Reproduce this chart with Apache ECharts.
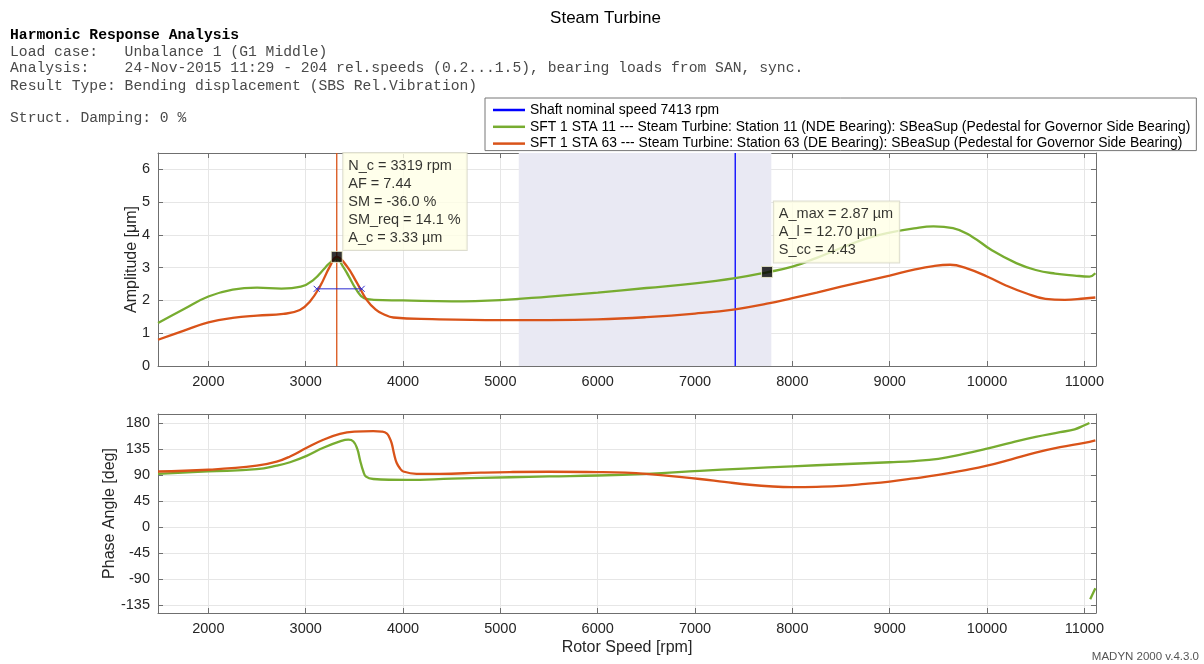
<!DOCTYPE html>
<html><head><meta charset="utf-8">
<script src="https://cdn.jsdelivr.net/npm/echarts@6/dist/echarts.min.js"></script>
<style>html,body{margin:0;padding:0;background:#fff}#c{width:1204px;height:664px}</style>
</head><body><div id="c"></div>
<script>
// ---------- data ----------
const speedRange = [1482.6, 11119.5];
const ampRange = [0, 6.5];
const phaseRange = [-149, 195.5];
const speedTicks = [2000, 3000, 4000, 5000, 6000, 7000, 8000, 9000, 10000, 11000];
const ampTicks = [0, 1, 2, 3, 4, 5, 6];
const phaseTicks = [-135, -90, -45, 0, 45, 90, 135, 180];
const nominalSpeed = 7413;
const operatingBand = [5189, 7784];
const criticalSpeed = 3319;
const criticalPoint = [3319, 3.33];
const maxPoint = [7740, 2.87];
const halfPowerLine = [[3113, 2.355], [3575, 2.355]];
const criticalInfo = ['N_c = 3319 rpm', 'AF = 7.44', 'SM = -36.0 %', 'SM_req = 14.1 %', 'A_c = 3.33 µm'];
const maxInfo = ['A_max = 2.87 µm', 'A_l = 12.70 µm', 'S_cc = 4.43'];
const nameNominal = 'Shaft nominal speed 7413 rpm';
const name11 = 'SFT 1 STA 11 --- Steam Turbine: Station 11 (NDE Bearing): SBeaSup (Pedestal for Governor Side Bearing)';
const name63 = 'SFT 1 STA 63 --- Steam Turbine: Station 63 (DE Bearing): SBeaSup (Pedestal for Governor Side Bearing)';
const headerLines = [
  'Load case:   Unbalance 1 (G1 Middle)',
  'Analysis:    24-Nov-2015 11:29 - 204 rel.speeds (0.2...1.5), bearing loads from SAN, sync.',
  'Result Type: Bending displacement (SBS Rel.Vibration)'
];
const headerTitle = 'Harmonic Response Analysis';
const dampingLine = 'Struct. Damping: 0 %';

const amp11 = [
  [1483,1.31],[1750,1.74],[2000,2.12],[2250,2.33],[2500,2.39],[2750,2.36],[2950,2.42],
  [3080,2.63],[3200,3.00],[3260,3.18],[3319,3.27],[3380,3.05],[3440,2.75],[3520,2.33],
  [3600,2.07],[3700,2.02],[4000,2.00],[4500,1.97],[5000,2.01],[5500,2.12],[6000,2.24],
  [6500,2.38],[7000,2.52],[7413,2.68],[7740,2.86],[8000,3.03],[8250,3.30],[8500,3.60],
  [8750,3.88],[9000,4.07],[9250,4.20],[9450,4.26],[9650,4.21],[9850,3.94],[10050,3.53],
  [10300,3.14],[10500,2.93],[10700,2.82],[10900,2.76],[11052,2.73],[11113,2.83]
];
const amp63 = [
  [1483,0.80],[1750,1.08],[2000,1.33],[2250,1.47],[2500,1.54],[2770,1.59],[2940,1.71],
  [3044,1.97],[3147,2.43],[3249,3.04],[3319,3.33],[3421,3.05],[3524,2.55],[3626,2.02],
  [3720,1.72],[3800,1.58],[3900,1.48],[4300,1.43],[5000,1.40],[5500,1.40],[6000,1.42],
  [6500,1.49],[7000,1.60],[7413,1.73],[7738,1.90],[8000,2.07],[8250,2.24],[8500,2.42],
  [8750,2.59],[9000,2.76],[9250,2.94],[9450,3.05],[9620,3.09],[9800,2.97],[10000,2.73],
  [10200,2.45],[10400,2.22],[10600,2.05],[10800,2.02],[11000,2.06],[11113,2.09]
];
const phase11 = [
  [1483,92],[2000,96],[2497,100],[2702,106],[2839,112],[3010,123],[3181,137],[3352,148],
  [3438,151],[3490,148],[3530,135],[3558,116],[3590,97],[3620,87],[3694,83],[4037,81.5],
  [4500,83.5],[5097,86],[5500,87.5],[6000,89],[6500,92],[7048,97],[7500,101],[8000,105],
  [8500,108.5],[9000,112],[9250,114],[9500,118],[9750,126],[10000,135.5],[10250,146],
  [10500,156],[10750,164],[10900,169],[11000,176],[11052,180],[11056,'-'],
  [11060,-125],[11113,-106]
];
const phase63 = [
  [1483,96],[2000,99],[2497,106],[2702,113],[2839,122],[3010,137],[3181,151],[3352,161],
  [3500,165],[3694,166],[3780,165],[3832,162],[3860,155],[3883,145],[3910,125],[3934,111],
  [3970,101],[4002,96],[4139,92],[4379,92],[4800,94],[5097,95],[5500,95.5],[6000,95],
  [6500,92],[7048,83],[7300,78],[7561,73],[7800,70],[8000,69],[8250,69.5],[8500,71],
  [8750,74.5],[9000,78.6],[9250,84],[9500,90],[9750,97.5],[10000,106],[10250,117],
  [10500,128.5],[10750,138],[11000,145.5],[11113,149.8]
];

// ---------- styling ----------
const FONT = '"Liberation Sans", Arial, Helvetica, sans-serif';
const MONO = '"Liberation Mono", "Courier New", monospace';
const GREEN = '#77AC30', ORANGE = '#D95319', AXIS = '#6f6f6f';

function xAx(gridIndex, position, main, name) {
  return {
    type: 'value', gridIndex, position, min: speedRange[0], max: speedRange[1],
    axisLine: {show: true, onZero: false, lineStyle: {color: AXIS, width: 1}},
    axisTick: {show: true, inside: true, length: 5, customValues: speedTicks, lineStyle: {color: AXIS}},
    axisLabel: {show: main, customValues: speedTicks, margin: 8, color: '#262626', fontSize: 14.5, fontFamily: FONT,
      formatter: v => String(v)},
    splitLine: {show: main, lineStyle: {color: '#e6e6e6', width: 1}},
    name: name || '', nameLocation: 'middle', nameGap: 27, nameMoveOverlap: false,
    nameTextStyle: {color: '#262626', fontSize: 16, fontFamily: FONT}
  };
}
function yAx(gridIndex, position, main, range, ticks, name, gap) {
  return {
    type: 'value', gridIndex, position, min: range[0], max: range[1],
    axisLine: {show: true, onZero: false, lineStyle: {color: AXIS, width: 1}},
    axisTick: {show: true, inside: true, length: 5, customValues: ticks, lineStyle: {color: AXIS}},
    axisLabel: {show: main, customValues: ticks, margin: 8, color: '#262626', fontSize: 14.5, fontFamily: FONT,
      formatter: v => String(v)},
    splitLine: {show: main, lineStyle: {color: '#e6e6e6', width: 1}},
    name: name || '', nameLocation: 'middle', nameGap: gap || 0, nameRotate: 90, nameMoveOverlap: false,
    nameTextStyle: {color: '#262626', fontSize: 16, fontFamily: FONT}
  };
}
function curve(name, data, color, xi, yi) {
  return {
    type: 'line', name, data, xAxisIndex: xi, yAxisIndex: yi, symbol: 'none', showSymbol: false,
    smooth: 0.45, connectNulls: false,
    lineStyle: {color, width: 2.3}, itemStyle: {color}, z: 4
  };
}

const labelRich = (lines) => lines.join('\n');

const option = {
  animation: false,
  backgroundColor: '#fff',
  grid: [
    {left: 158, top: 153, width: 938, height: 213, show: false},
    {left: 158, top: 414, width: 938, height: 199, show: false}
  ],
  xAxis: [
    xAx(0, 'bottom', true),
    xAx(0, 'top', false),
    xAx(1, 'bottom', true, 'Rotor Speed [rpm]'),
    xAx(1, 'top', false)
  ],
  yAxis: [
    yAx(0, 'left', true, ampRange, ampTicks, 'Amplitude [μm]', 18),
    yAx(0, 'right', false, ampRange, ampTicks),
    yAx(1, 'left', true, phaseRange, phaseTicks, 'Phase Angle [deg]', 40),
    yAx(1, 'right', false, phaseRange, phaseTicks)
  ],
  legend: {
    data: [nameNominal, name11, name63],
    orient: 'vertical', left: 485, top: 98,
    icon: 'rect',
    padding: [5, 6, 0, 8], itemGap: 2.8, itemWidth: 32, itemHeight: 2.5,
    backgroundColor: '#fff', borderColor: '#777', borderWidth: 1,
    textStyle: {fontSize: 13.9, fontFamily: FONT, color: '#000', lineHeight: 14},
    selectedMode: false
  },
  graphic: [
    {type: 'text', x: 605.5, y: 18.5, style: {text: 'Steam Turbine', font: '17px ' + FONT, fill: '#000', align: 'center', verticalAlign: 'middle'}},
    {type: 'text', x: 10, y: 35, style: {text: headerTitle, font: 'bold 14.7px ' + MONO, fill: '#000', verticalAlign: 'middle'}},
    {type: 'text', x: 10, y: 51.7, style: {text: headerLines[0], font: '14.7px ' + MONO, fill: '#4a4a4a', verticalAlign: 'middle'}},
    {type: 'text', x: 10, y: 68.5, style: {text: headerLines[1], font: '14.7px ' + MONO, fill: '#4a4a4a', verticalAlign: 'middle'}},
    {type: 'text', x: 10, y: 86, style: {text: headerLines[2], font: '14.7px ' + MONO, fill: '#4a4a4a', verticalAlign: 'middle'}},
    {type: 'text', x: 10, y: 118.5, style: {text: dampingLine, font: '14.7px ' + MONO, fill: '#4a4a4a', verticalAlign: 'middle'}},
    {type: 'text', x: 1199, y: 656.5, style: {text: 'MADYN 2000 v.4.3.0', font: '11.5px ' + FONT, fill: '#555', align: 'right', verticalAlign: 'middle'}}
  ],
  series: [
    {
      type: 'line', name: nameNominal, xAxisIndex: 0, yAxisIndex: 0,
      data: [[nominalSpeed, ampRange[0]], [nominalSpeed, ampRange[1]]],
      symbol: 'none', lineStyle: {color: '#0000ff', width: 1.3}, itemStyle: {color: '#0000ff'}, z: 3,
      markArea: {
        silent: true, itemStyle: {color: '#e9e9f3'},
        data: [[{xAxis: operatingBand[0]}, {xAxis: operatingBand[1]}]]
      }
    },
    {
      type: 'line', name: 'crit', xAxisIndex: 0, yAxisIndex: 0,
      data: [[criticalSpeed, ampRange[0]], [criticalSpeed, ampRange[1]]],
      symbol: 'none', lineStyle: {color: ORANGE, width: 1.3}, z: 3
    },
    curve(name11, amp11, GREEN, 0, 0),
    curve(name63, amp63, ORANGE, 0, 0),
    curve(name11, phase11, GREEN, 2, 2),
    curve(name63, phase63, ORANGE, 2, 2),
    {
      type: 'line', name: 'halfpower', xAxisIndex: 0, yAxisIndex: 0, data: halfPowerLine,
      symbol: 'path://M0,0L10,10M10,0L0,10', symbolSize: 6, showSymbol: true,
      lineStyle: {color: '#2a2ad0', width: 1}, itemStyle: {color: 'none', borderColor: '#2a2ad0', borderWidth: 1}, z: 5
    },
    {
      type: 'scatter', name: 'markers', xAxisIndex: 0, yAxisIndex: 0, z: 10,
      symbol: 'rect', symbolSize: 11,
      itemStyle: {color: '#000', borderColor: '#f5f5d0', borderWidth: 1},
      data: [
        {value: criticalPoint, label: {position: [12.5, -97.9], formatter: labelRich(criticalInfo)}},
        {value: maxPoint, label: {position: [12.8, -64.5], formatter: labelRich(maxInfo)}}
      ],
      label: {
        show: true, align: 'left', verticalAlign: 'top',
        fontSize: 14.5, fontFamily: FONT, color: '#000', lineHeight: 18,
        backgroundColor: '#ffffe6', borderColor: '#d4d4c4', borderWidth: 1,
        padding: [4, 6, 3, 5]
      }
    }
  ]
};

const chart = echarts.init(document.getElementById('c'), null, {renderer: 'canvas'});
chart.setOption(option);
</script>
</body></html>
